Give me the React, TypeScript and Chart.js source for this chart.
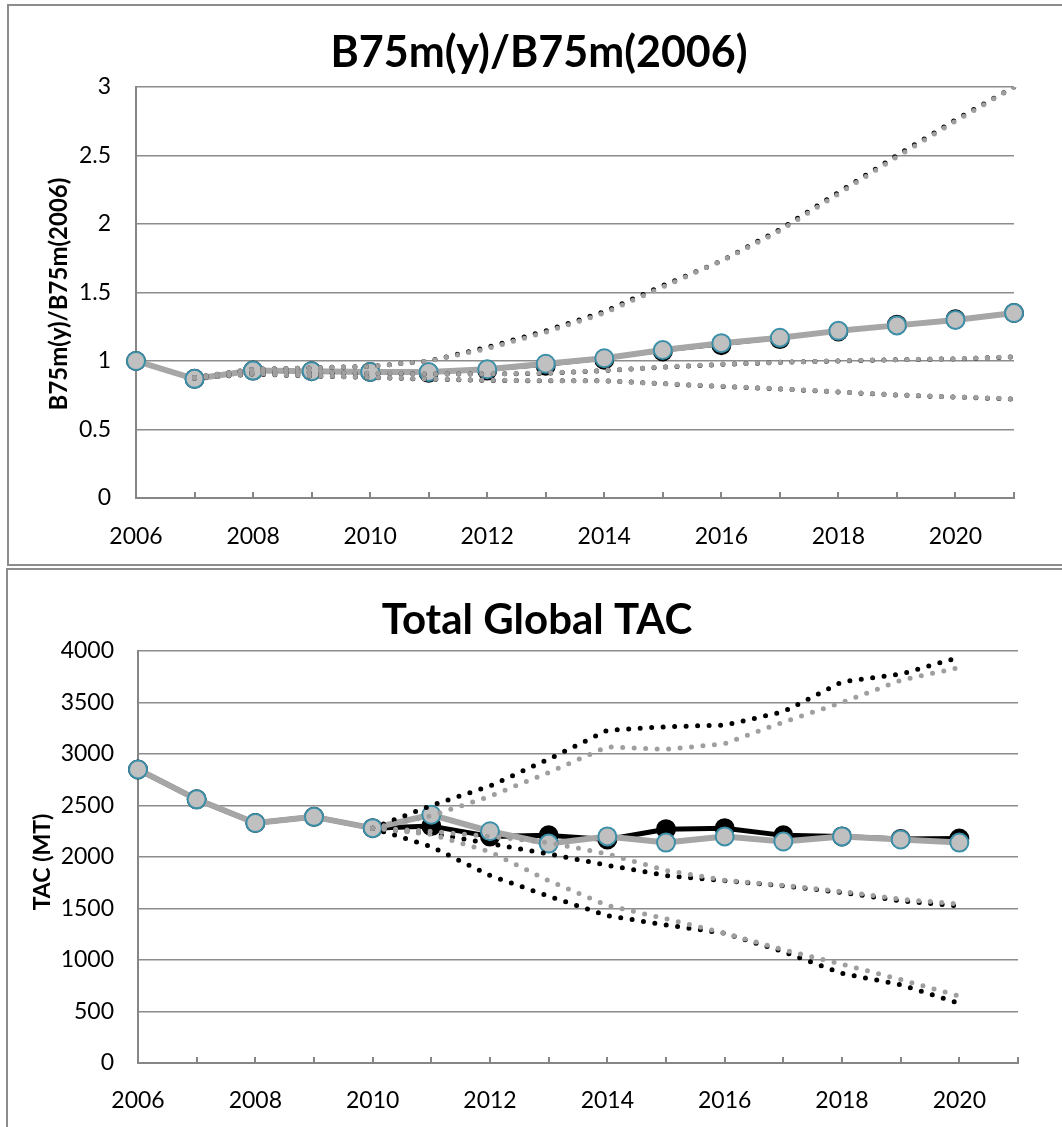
import React, { useEffect, useRef } from 'react';
import { Chart, registerables } from 'chart.js';

Chart.register(...registerables);

// ---------- shared categories ----------
const YEARS = ['2006', '2007', '2008', '2009', '2010', '2011', '2012', '2013', '2014', '2015', '2016', '2017', '2018', '2019', '2020', '2021'];

// ---------- top chart: B75m(y)/B75m(2006) ----------
const TOP_TITLE = 'B75m(y)/B75m(2006)';
const TOP_Y_TITLE = 'B75m(y)/B75m(2006)';
const TOP_Y_MIN = 0;
const TOP_Y_MAX = 3;
const TOP_Y_STEP = 0.5;
const ratioBlackMedian = [1.0, 0.87, 0.93, 0.925, 0.92, 0.915, 0.93, 0.965, 1.01, 1.07, 1.115, 1.16, 1.215, 1.265, 1.305, 1.35];
const ratioGrayMedian = [1.0, 0.87, 0.93, 0.925, 0.92, 0.92, 0.94, 0.98, 1.02, 1.08, 1.13, 1.17, 1.22, 1.26, 1.3, 1.35];
const ratioBlackUpper = [null, 0.88, 0.94, 0.95, 0.96, 1.0, 1.1, 1.22, 1.36, 1.55, 1.73, 1.96, 2.23, 2.5, 2.76, 3.0];
const ratioGrayUpper = [null, 0.88, 0.94, 0.95, 0.96, 1.0, 1.09, 1.21, 1.35, 1.54, 1.73, 1.95, 2.22, 2.49, 2.75, 3.0];
const ratioBlackMiddle = [null, 0.88, 0.925, 0.915, 0.91, 0.905, 0.905, 0.91, 0.93, 0.955, 0.975, 0.99, 1.0, 1.01, 1.015, 1.03];
const ratioGrayMiddle = [null, 0.88, 0.928, 0.918, 0.912, 0.906, 0.906, 0.912, 0.932, 0.956, 0.977, 0.99, 1.002, 1.01, 1.017, 1.03];
const ratioBlackLower = [null, 0.875, 0.905, 0.89, 0.88, 0.868, 0.858, 0.856, 0.856, 0.834, 0.815, 0.796, 0.774, 0.752, 0.737, 0.722];
const ratioGrayLower = [null, 0.875, 0.907, 0.892, 0.881, 0.87, 0.86, 0.857, 0.855, 0.835, 0.816, 0.797, 0.775, 0.753, 0.738, 0.724];

// ---------- bottom chart: Total Global TAC ----------
const BOT_TITLE = 'Total Global TAC';
const BOT_Y_TITLE = 'TAC (MT)';
const BOT_Y_MIN = 0;
const BOT_Y_MAX = 4000;
const BOT_Y_STEP = 500;
const tacBlackMedian = [2850, 2560, 2330, 2390, 2280, 2300, 2200, 2210, 2170, 2270, 2280, 2210, 2200, 2175, 2180, null];
const tacGrayMedian = [2850, 2560, 2330, 2390, 2280, 2410, 2250, 2130, 2200, 2140, 2200, 2150, 2200, 2170, 2140, null];
const tacBlackUpper = [null, null, null, null, 2280, 2500, 2690, 2950, 3230, 3265, 3280, 3410, 3700, 3775, 3940, null];
const tacGrayUpper = [null, null, null, null, 2280, 2400, 2590, 2820, 3070, 3045, 3100, 3310, 3500, 3715, 3840, null];
const tacBlackMiddle = [null, null, null, null, 2280, 2230, 2130, 2030, 1920, 1820, 1770, 1720, 1655, 1575, 1525, null];
const tacGrayMiddle = [null, null, null, null, 2280, 2250, 2200, 2140, 2030, 1870, 1775, 1725, 1665, 1590, 1545, null];
const tacBlackLower = [null, null, null, null, 2280, 2100, 1820, 1620, 1430, 1340, 1260, 1080, 870, 760, 580, null];
const tacGrayLower = [null, null, null, null, 2280, 2220, 2050, 1770, 1530, 1400, 1260, 1100, 960, 810, 650, null];

// ---------- styles ----------
const FONT = 'Lato';
const TICK_SIZE = 23;
const AXIS_COLOR = '#868686';
const GRID_COLOR = '#8c8c8c';
const BOX_COLOR = '#8c8c8c';
const BLACK = '#000000';
const GRAY_LINE = '#a6a6a6';
const GRAY_DOT = '#9f9f9f';
const MARKER_FILL = '#c0c0c0';
const MARKER_EDGE = '#3b8fa8';

const insideTicks = {
  id: 'insideTicks',
  beforeDatasetsDraw(chart: any) {
    const sx = chart.scales.x;
    const { ctx, chartArea } = chart;
    ctx.save();
    ctx.strokeStyle = AXIS_COLOR;
    ctx.lineWidth = 2;
    for (let i = 0; i < YEARS.length; i++) {
      const px = Math.round(sx.getPixelForValue(i));
      ctx.beginPath();
      ctx.moveTo(px, chartArea.bottom);
      ctx.lineTo(px, chartArea.bottom - 6);
      ctx.stroke();
    }
    ctx.restore();
  },
};

const textBlocks = {
  id: 'textBlocks',
  afterDraw(chart: any, _args: any, opts: any) {
    const { ctx } = chart;
    ctx.save();
    ctx.fillStyle = '#000';
    ctx.font = `bold ${opts.titleSize}px ${FONT}`;
    ctx.textAlign = 'center';
    ctx.textBaseline = 'alphabetic';
    ctx.fillText(opts.title, opts.titleX, opts.titleBaseline);
    ctx.translate(opts.yTitleX, opts.yTitleY);
    ctx.rotate(-Math.PI / 2);
    ctx.font = `bold ${opts.yTitleSize}px ${FONT}`;
    ctx.fillText(opts.yTitle, 0, opts.yTitleSize * 0.36);
    ctx.restore();
  },
};

function dotted(data: (number | null)[], color: string) {
  return {
    data,
    borderColor: color,
    backgroundColor: color,
    borderWidth: 5,
    borderDash: [0, 11.5],
    borderCapStyle: 'round',
    borderJoinStyle: 'round',
    pointRadius: 0,
    pointHoverRadius: 0,
    tension: 0,
    fill: false,
  };
}

function median(data: (number | null)[], lineColor: string, lineWidth: number, fillColor: string, edgeColor: string) {
  return {
    data,
    borderColor: lineColor,
    backgroundColor: fillColor,
    borderWidth: lineWidth,
    borderJoinStyle: 'round',
    pointRadius: 9,
    pointHoverRadius: 9,
    pointBorderWidth: 2,
    pointBackgroundColor: fillColor,
    pointBorderColor: edgeColor,
    tension: 0,
    fill: false,
  };
}

function makeConfig(p: {
  datasets: any[];
  yMin: number; yMax: number; yStep: number;
  padTop: number; padRight: number; yWidth: number; xHeight: number;
  yLabelPad: number; xLabelPad: number;
  text: any;
}) {
  return {
    type: 'line',
    data: { labels: YEARS, datasets: p.datasets },
    plugins: [insideTicks, textBlocks],
    options: {
      responsive: false,
      animation: false,
      devicePixelRatio: 1,
      layout: { padding: { top: p.padTop, right: p.padRight, left: 0, bottom: 0 } },
      plugins: {
        legend: { display: false },
        tooltip: { enabled: false },
        title: { display: false },
        textBlocks: p.text,
      },
      scales: {
        x: {
          type: 'category',
          offset: false,
          afterFit: (s: any) => { s.height = p.xHeight; },
          grid: { display: false, drawTicks: false },
          border: { display: true, color: AXIS_COLOR, width: 2 },
          ticks: {
            autoSkip: false,
            maxRotation: 0,
            minRotation: 0,
            padding: p.xLabelPad,
            color: '#000',
            font: { family: FONT, size: TICK_SIZE },
            callback: (_v: any, i: number) => (i % 2 === 0 ? YEARS[i] : ''),
          },
        },
        y: {
          min: p.yMin,
          max: p.yMax,
          afterFit: (s: any) => { s.width = p.yWidth; },
          grid: { display: true, color: GRID_COLOR, lineWidth: 1.5, drawTicks: false },
          border: { display: true, color: AXIS_COLOR, width: 2 },
          ticks: {
            stepSize: p.yStep,
            padding: p.yLabelPad,
            color: '#000',
            font: { family: FONT, size: TICK_SIZE },
            callback: (v: any) => String(v),
          },
        },
      },
    },
  } as any;
}

const topConfig = () =>
  makeConfig({
    datasets: [
      dotted(ratioGrayUpper, GRAY_DOT),
      dotted(ratioGrayMiddle, GRAY_DOT),
      dotted(ratioGrayLower, GRAY_DOT),
      dotted(ratioBlackUpper, BLACK),
      dotted(ratioBlackMiddle, BLACK),
      dotted(ratioBlackLower, BLACK),
      median(ratioGrayMedian, GRAY_LINE, 6, MARKER_FILL, MARKER_EDGE),
      median(ratioBlackMedian, BLACK, 2, BLACK, BLACK),
    ],
    yMin: TOP_Y_MIN, yMax: TOP_Y_MAX, yStep: TOP_Y_STEP,
    padTop: 87, padRight: 48, yWidth: 136, xHeight: 566 - 498,
    yLabelPad: 25, xLabelPad: 25,
    text: {
      title: TOP_TITLE, titleSize: 43, titleX: 539, titleBaseline: 67,
      yTitle: TOP_Y_TITLE, yTitleSize: 24, yTitleX: 58, yTitleY: 294,
    },
  });

const bottomConfig = () =>
  makeConfig({
    datasets: [
      dotted(tacGrayUpper, GRAY_DOT),
      dotted(tacGrayMiddle, GRAY_DOT),
      dotted(tacGrayLower, GRAY_DOT),
      dotted(tacBlackUpper, BLACK),
      dotted(tacBlackMiddle, BLACK),
      dotted(tacBlackLower, BLACK),
      median(tacGrayMedian, GRAY_LINE, 6, MARKER_FILL, MARKER_EDGE),
      median(tacBlackMedian, BLACK, 5, BLACK, BLACK),
    ],
    yMin: BOT_Y_MIN, yMax: BOT_Y_MAX, yStep: BOT_Y_STEP,
    padTop: 85, padRight: 44, yWidth: 138, xHeight: 561 - 497,
    yLabelPad: 24, xLabelPad: 24,
    text: {
      title: BOT_TITLE, titleSize: 42, titleX: 537, titleBaseline: 68,
      yTitle: BOT_Y_TITLE, yTitleSize: 23, yTitleX: 42, yTitleY: 296,
    },
  });

function ChartCanvas(props: { config: () => any; top: number; width: number; height: number }) {
  const ref = useRef<HTMLCanvasElement | null>(null);
  useEffect(() => {
    let chart: Chart | null = null;
    let cancelled = false;
    const make = () => {
      if (cancelled || !ref.current) return;
      chart = new Chart(ref.current, props.config());
    };
    const fonts: any = (document as any).fonts;
    if (fonts && fonts.load) {
      Promise.all([fonts.load(`22px ${FONT}`), fonts.load(`bold 22px ${FONT}`)]).then(make, make);
    } else {
      make();
    }
    return () => {
      cancelled = true;
      if (chart) chart.destroy();
    };
  }, []);
  return (
    <canvas
      ref={ref}
      width={props.width}
      height={props.height}
      style={{ position: 'absolute', left: 0, top: props.top, width: props.width, height: props.height }}
    />
  );
}

export default function App() {
  return (
    <div style={{ position: 'absolute', left: 0, top: 0, width: 1062, height: 1127, overflow: 'hidden', background: '#fff' }}>
      <div style={{ position: 'absolute', left: 7, top: 4, width: 1070, height: 562, boxSizing: 'border-box', border: `2px solid ${BOX_COLOR}` }} />
      <div style={{ position: 'absolute', left: 6, top: 568, width: 1070, height: 600, boxSizing: 'border-box', border: `2px solid ${BOX_COLOR}` }} />
      <ChartCanvas config={topConfig} top={0} width={1062} height={566} />
      <ChartCanvas config={bottomConfig} top={566} width={1062} height={561} />
    </div>
  );
}
